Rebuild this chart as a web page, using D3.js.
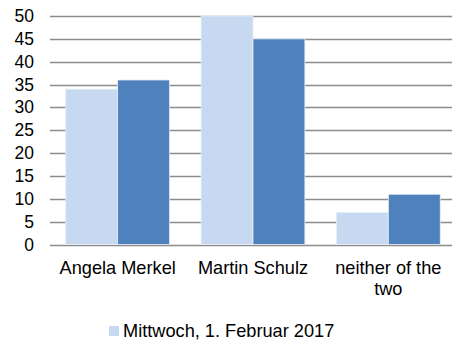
<!DOCTYPE html>
<html>
<head>
<meta charset="utf-8">
<script src="https://cdn.jsdelivr.net/npm/d3@7"></script>
<style>
  body { margin: 0; background: #fff; }
  text { font-family: "Liberation Sans", Arial, sans-serif; fill: #000; }
</style>
</head>
<body>
<script>
// chart data
var categories = ["Angela Merkel", "Martin Schulz", "neither of the two"];
var seriesNames = ["Mittwoch, 1. Februar 2017", "Series 2"];
var seriesA = [34, 50, 7];
var seriesB = [36, 45, 11];
var yTicks = [0, 5, 10, 15, 20, 25, 30, 35, 40, 45, 50];
var colors = ["#c6d9f1", "#4f81bd"];

(function () {
    var width = 452, height = 342;
    var plotLeft = 50, plotRight = 456, plotTop = 16, plotBottom = 244.5;

    var svg = d3.select("body").append("svg")
        .attr("width", width)
        .attr("height", height);

    var x = d3.scaleBand()
        .domain(categories)
        .range([plotLeft, plotRight])
        .paddingInner(0.233)
        .paddingOuter(0.1165);

    var xSub = d3.scaleBand()
        .domain([0, 1])
        .range([0, x.bandwidth()]);

    var y = d3.scaleLinear()
        .domain([0, 50])
        .range([plotBottom, plotTop]);

//gridlines
    svg.selectAll(".grid")
        .data(yTicks)
        .enter()
        .append("line")
        .attr("class", "grid")
        .attr("x1", plotLeft)
        .attr("x2", width)
        .attr("y1", function(d){ return Math.round(y(d)) + 0.5; })
        .attr("y2", function(d){ return Math.round(y(d)) + 0.5; })
        .attr("stroke", "#8c8c8c")
        .attr("stroke-width", 1.3);

//y labels
    svg.selectAll(".ylab")
        .data(yTicks)
        .enter()
        .append("text")
        .attr("class", "ylab")
        .attr("x", 34)
        .attr("y", function(d){ return y(d) + 6; })
        .attr("text-anchor", "end")
        .style("font-size", "17.5px")
        .text(function(d){ return d; });

//bars
    var groups = svg.selectAll(".group")
        .data(categories)
        .enter()
        .append("g")
        .attr("class", "group")
        .attr("transform", function(d){ return "translate(" + x(d) + ",0)"; });

    groups.selectAll("rect")
        .data(function(d, i){ return [seriesA[i], seriesB[i]]; })
        .enter()
        .append("rect")
        .attr("x", function(d, j){ return xSub(j); })
        .attr("width", xSub.bandwidth())
        .attr("y", function(d){ return y(d); })
        .attr("height", function(d){ return y(0) - y(d); })
        .attr("fill", function(d, j){ return colors[j]; })
        .attr("stroke", "#e8eef7")
        .attr("stroke-width", 0.8);

//category labels
    svg.selectAll(".xlab")
        .data(categories)
        .enter()
        .append("text")
        .attr("class", "xlab")
        .attr("text-anchor", "middle")
        .attr("x", function(d){ return x(d) + x.bandwidth() / 2; })
        .attr("y", 274)
        .style("font-size", "18.2px")
        .each(function(d){
            var t = d3.select(this);
            var lines = d == "neither of the two" ? ["neither of the", "two"] : [d];
            lines.forEach(function(l, i){
                t.append("tspan")
                    .attr("x", x(d) + x.bandwidth() / 2)
                    .attr("dy", i == 0 ? 0 : 21)
                    .text(l);
            });
        });

//legend
    var legend = svg.append("g").attr("transform", "translate(109,326)");
    legend.append("rect")
        .attr("width", 10)
        .attr("height", 10)
        .attr("fill", colors[0]);
    legend.append("text")
        .attr("x", 14)
        .attr("y", 11)
        .style("font-size", "18.2px")
        .text(seriesNames[0]);
})();
</script>
</body>
</html>
